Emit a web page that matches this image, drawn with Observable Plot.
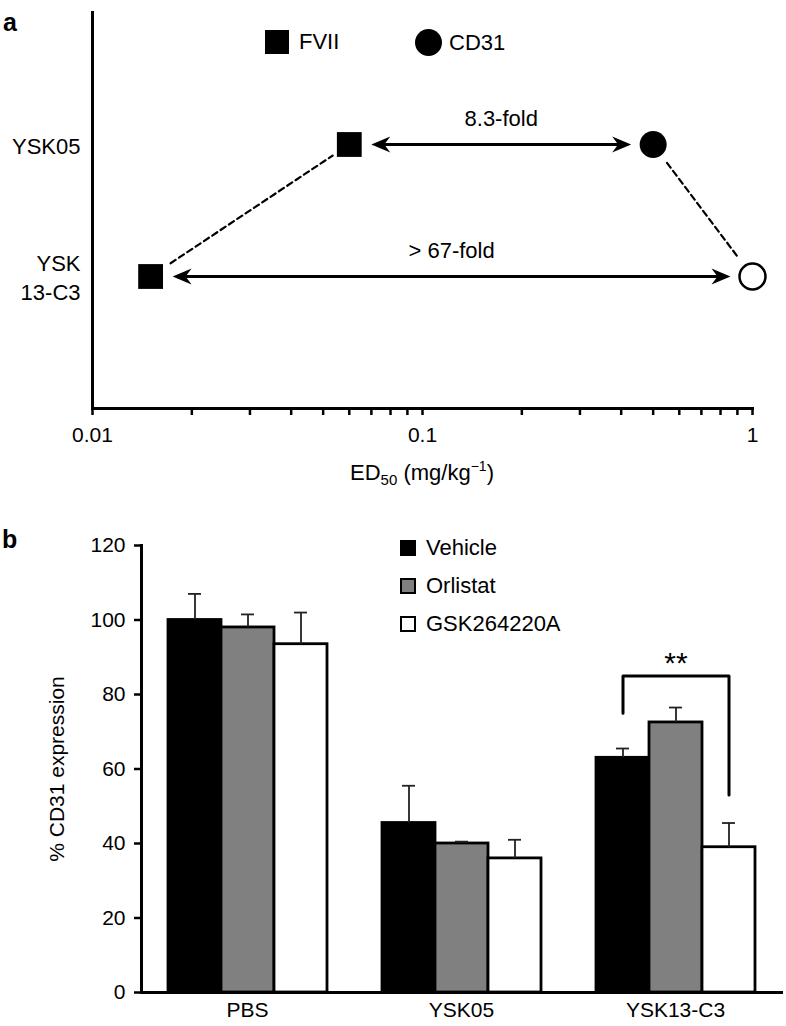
<!DOCTYPE html>
<html>
<head>
<meta charset="utf-8">
<script src="https://cdn.jsdelivr.net/npm/d3@7"></script>
<script src="https://cdn.jsdelivr.net/npm/@observablehq/plot@0.6"></script>
<style>
  html, body { margin: 0; padding: 0; background: #fff; }
  #root { position: relative; width: 786px; height: 1026px; font-family: "Liberation Sans", Arial, Helvetica, sans-serif; color: #000; overflow: hidden; }
  .abs { position: absolute; }
  .panel { font-weight: bold; font-size: 25px; line-height: 1; }
  .lg { position: absolute; display: flex; align-items: center; font-size: 22px; line-height: 1; white-space: nowrap; }
  .sw { display: inline-block; box-sizing: border-box; }
  .xlab { font-size: 22px; text-align: center; white-space: nowrap; }
  .xlab sub { font-size: 15px; vertical-align: -5px; line-height: 0; }
  .xlab sup { font-size: 14px; vertical-align: 9px; line-height: 0; }
</style>
</head>
<body>
<div id="root">
  <div id="chartA" class="abs" style="left:0;top:0"></div>
  <div id="chartB" class="abs" style="left:0;top:500px"></div>
  <div class="abs panel" style="left:3px;top:10px">a</div>
  <div class="abs panel" style="left:2px;top:527px">b</div>
  <div class="lg" style="left:265px;top:30px"><span class="sw" style="width:24px;height:24px;background:#000;margin-right:10px"></span>FVII</div>
  <div class="lg" style="left:415px;top:29px"><span class="sw" style="width:27px;height:27px;background:#000;border-radius:50%;margin-right:7px"></span>CD31</div>
  <div class="abs xlab" style="left:272px;width:300px;top:460px">ED<sub>50</sub> (mg/kg<sup>−1</sup>)</div>
  <div id="legendB"></div>
</div>
<script>
// ---------- Panel a data ----------
const compounds = ["YSK05", "YSK13-C3"];
const compoundTickLabels = ["YSK05", "YSK\n13-C3"];
const fviiED50 = [0.06, 0.015];
const cd31ED50 = [0.5, 1];
const cd31IsLowerBound = [false, true];
const foldLabels = ["8.3-fold", "> 67-fold"];
const xTicks = [0.01, 0.02, 0.03, 0.04, 0.05, 0.06, 0.07, 0.08, 0.09,
                0.1, 0.2, 0.3, 0.4, 0.5, 0.6, 0.7, 0.8, 0.9, 1];
const xLabeledTicks = [0.01, 0.1, 1];
const legendA = ["FVII", "CD31"];

// ---------- Panel b data ----------
const groups = ["PBS", "YSK05", "YSK13-C3"];
const treatments = ["Vehicle", "Orlistat", "GSK264220A"];
const treatmentFills = ["#000000", "#808080", "#ffffff"];
const vehicleMean = [100, 45.5, 63];
const vehicleErr = [7, 10, 2.5];
const orlistatMean = [98, 40, 72.5];
const orlistatErr = [3.5, 0.5, 4];
const gskMean = [93.5, 36, 39];
const gskErr = [8.5, 5, 6.5];
const yTicks = [0, 20, 40, 60, 80, 100, 120];
const sigGroup = "YSK13-C3";
const sigLabel = "**";
const bracketX = ["Vehicle", "Vehicle", "GSK264220A", "GSK264220A"];
const bracketY = [75, 85, 85, 53];
const sigLabelX = "Orlistat";
const sigLabelY = 85;

const FONT = '"Liberation Sans", Arial, Helvetica, sans-serif';

// ---------- Panel a ----------
const pairs = compounds.map((c, i) => ({
  compound: c, fvii: fviiED50[i], cd31: cd31ED50[i],
  bound: cd31IsLowerBound[i], fold: foldLabels[i]
}));
const fviiLink = [{x1: fviiED50[1], y1: compounds[1], x2: fviiED50[0], y2: compounds[0]}];
const cd31Link = [{x1: cd31ED50[0], y1: compounds[0], x2: cd31ED50[1], y2: compounds[1]}];

const arrowHead = {
  draw(ctx) {
    ctx.moveTo(0, 0);
    ctx.lineTo(-19, -8);
    ctx.lineTo(-13, 0);
    ctx.lineTo(-19, 8);
    ctx.closePath();
  }
};

const chartA = Plot.plot({
  width: 786, height: 495,
  marginLeft: 92, marginRight: 34, marginTop: 12, marginBottom: 87,
  style: {fontFamily: FONT, fontSize: "21px", color: "#000", background: "transparent", overflow: "visible"},
  x: {type: "log", domain: [0.01, 1]},
  y: {type: "point", domain: compounds, padding: 1},
  marks: [
    Plot.axisX({ticks: xTicks, tickFormat: d => xLabeledTicks.includes(d) ? String(d) : "",
      tickSize: 7, tickPadding: 12, strokeWidth: 2.5, fontSize: 21, label: null}),
    Plot.axisY({tickSize: 0, tickPadding: 12, fontSize: 22, lineHeight: 1.3, label: null,
      tickFormat: d => compoundTickLabels[compounds.indexOf(d)]}),
    Plot.frame({anchor: "bottom", strokeWidth: 3}),
    Plot.frame({anchor: "left", strokeWidth: 3}),
    Plot.arrow(fviiLink, {x1: "x1", y1: "y1", x2: "x2", y2: "y2", headLength: 0,
      insetStart: 24, insetEnd: 20, strokeWidth: 2.2, strokeDasharray: "6,4", stroke: "#000"}),
    Plot.arrow(cd31Link, {x1: "x1", y1: "y1", x2: "x2", y2: "y2", headLength: 0,
      insetStart: 23, insetEnd: 26, strokeWidth: 2.2, strokeDasharray: "6,4", stroke: "#000"}),
    Plot.arrow(pairs, {x1: "fvii", x2: "cd31", y: "compound", headLength: 0,
      insetStart: 28, insetEnd: 28, strokeWidth: 2.8, stroke: "#000"}),
    Plot.dot(pairs, {x: "fvii", y: "compound", symbol: arrowHead, rotate: 180, dx: 22,
      fill: "#000", stroke: "none", r: 5}),
    Plot.dot(pairs, {x: "cd31", y: "compound", symbol: arrowHead, dx: -22,
      fill: "#000", stroke: "none", r: 5}),
    Plot.dot(pairs, {x: "fvii", y: "compound", symbol: "square", r: 14, fill: "#000", stroke: "none"}),
    Plot.dot(pairs, {filter: d => !d.bound, x: "cd31", y: "compound", symbol: "circle", r: 13.5,
      fill: "#000", stroke: "none"}),
    Plot.dot(pairs, {filter: d => d.bound, x: "cd31", y: "compound", symbol: "circle", r: 13,
      fill: "#fff", stroke: "#000", strokeWidth: 2.5}),
    Plot.text(pairs, {x: d => Math.sqrt(d.fvii * d.cd31), y: "compound", text: "fold",
      dy: -26, fontSize: 22, fill: "#000"})
  ]
});
document.getElementById("chartA").appendChild(chartA);

// ---------- Panel b ----------
const means = [vehicleMean, orlistatMean, gskMean];
const errs = [vehicleErr, orlistatErr, gskErr];
const rows = [];
groups.forEach((g, i) => treatments.forEach((t, j) => {
  rows.push({group: g, treatment: t, value: means[j][i], err: errs[j][i]});
}));
const bracket = bracketX.map((x, i) => ({group: sigGroup, treatment: x, value: bracketY[i]}));
const sig = [{group: sigGroup, treatment: sigLabelX, value: sigLabelY, text: sigLabel}];

const chartB = Plot.plot({
  width: 786, height: 526,
  marginLeft: 140, marginRight: 4, marginTop: 45, marginBottom: 34,
  style: {fontFamily: FONT, fontSize: "21px", color: "#000", background: "transparent", overflow: "visible"},
  fx: {domain: groups, paddingInner: 0.01, paddingOuter: 0, label: null},
  x: {domain: treatments, paddingInner: 0, paddingOuter: 0.47, axis: null},
  y: {domain: [0, 120]},
  color: {domain: treatments, range: treatmentFills},
  marks: [
    Plot.barY(rows, {fx: "group", x: "treatment", y: "value", fill: "treatment",
      stroke: "#000", strokeWidth: 2.8}),
    Plot.ruleX(rows, {fx: "group", x: "treatment", y1: "value", y2: d => d.value + d.err,
      stroke: "#222", strokeWidth: 1.8}),
    Plot.tickY(rows, {fx: "group", x: "treatment", y: d => d.value + d.err,
      stroke: "#222", strokeWidth: 1.8, insetLeft: 20, insetRight: 20}),
    Plot.line(bracket, {fx: "group", x: "treatment", y: "value", stroke: "#000", strokeWidth: 3}),
    Plot.text(sig, {fx: "group", x: "treatment", y: "value", text: "text", dy: -12,
      fontSize: 30, fill: "#000"}),
    Plot.axisY({ticks: yTicks, tickSize: 7, tickPadding: 9, strokeWidth: 2.5, fontSize: 21,
      label: "% CD31 expression", labelAnchor: "center", labelArrow: "none", labelOffset: 92}),
    Plot.axisFx({anchor: "bottom", tickSize: 0, tickPadding: 10, fontSize: 21, label: null}),
    Plot.frame({anchor: "bottom", facet: "super", strokeWidth: 3}),
    Plot.frame({anchor: "left", facet: "super", strokeWidth: 3})
  ]
});
document.getElementById("chartB").appendChild(chartB);

// ---------- Panel b legend ----------
const lgB = document.getElementById("legendB");
treatments.forEach((t, j) => {
  const div = document.createElement("div");
  div.className = "lg";
  div.style.left = "400px";
  div.style.top = (537 + j * 38) + "px";
  const sw = document.createElement("span");
  sw.className = "sw";
  sw.style.cssText = `width:16px;height:16px;background:${treatmentFills[j]};border:2.5px solid #000;margin-right:10px`;
  div.appendChild(sw);
  div.appendChild(document.createTextNode(t));
  lgB.appendChild(div);
});
</script>
</body>
</html>
